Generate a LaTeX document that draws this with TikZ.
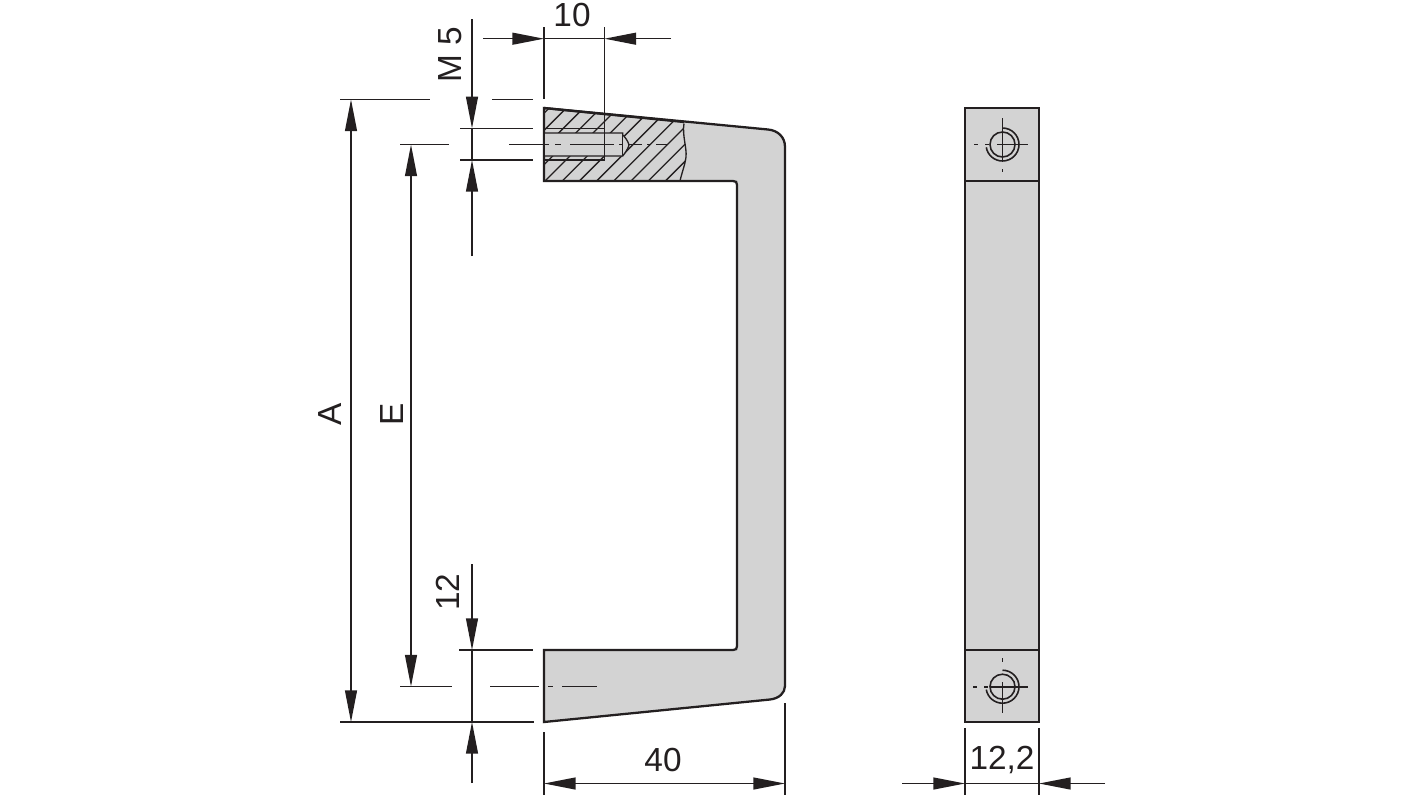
\documentclass[tikz,border=0pt]{standalone}
\usepackage{fontspec}
\setmainfont{Liberation Sans}
\usetikzlibrary{arrows.meta}
\definecolor{bodygray}{HTML}{D3D3D3}
\definecolor{inkdark}{HTML}{231F20}
\begin{document}
\begin{tikzpicture}[x=0.02cm,y=-0.02cm]
		\tikzset{outline/.style = {draw=inkdark,line width=1.3pt,line join=miter}}
		\tikzset{thin line/.style = {draw=inkdark,line width=0.75pt}}
		\tikzset{dim/.style = {thin line,{Triangle[length=18pt,width=6.8pt,fill=inkdark]}-{Triangle[length=18pt,width=6.8pt,fill=inkdark]}}}
		\tikzset{dimin/.style = {thin line,-{Triangle[length=18pt,width=6.8pt,fill=inkdark]}}}
		\tikzset{label/.style = {inner sep=0pt,text=inkdark,font=\fontsize{19}{21}\selectfont}}
		\useasboundingbox (0,0) rectangle (1420,798);
		% handle, side cut
		\draw[outline,fill=bodygray] (544,108) -- (768,129.5) .. controls (778,130.5) and (785,137) .. (785,147) -- (785,686) .. controls (785,693) and (779,698.5) .. (770,699.5) -- (544,722) -- (544,650) -- (733,650) .. controls (736,650) and (737,649) .. (737,646) -- (737,185) .. controls (737,182) and (736,181) .. (733,181) -- (544,181) -- cycle;
		% hatching
		\begin{scope}
		\clip (544,108) -- (684,122) .. controls (682,135) and (687,148) .. (686,157) .. controls (685,165) and (682,172) .. (680,181) -- (544,181) -- cycle;
		\foreach \k in {-4,...,8}
			\draw[thin line] ({545+17.2*\k},181) -- ({545+17.2*\k+90},91);
		\end{scope}
		\draw[thin line] (684,123.5) .. controls (682,135) and (687,148) .. (686,157) .. controls (685,165) and (682,172) .. (680,181);
		\draw[outline] (544,108) -- (684,122);
		\draw[outline] (680,181) -- (544,181) -- (544,108);
		% threaded hole
		\draw[thin line,fill=bodygray] (545,133) -- (622.7,133) -- (622.7,135) .. controls (625,137) and (628,141) .. (629,145) .. controls (628,149) and (625,153) .. (622.7,156) -- (545,156);
		\draw[thin line] (622.7,133) -- (622.7,156);
		\coordinate (threadtopL) at (460,128.3);
		\coordinate (threadtopR) at (533,128.3);
		\coordinate (threadbotL) at (460,160);
		\coordinate (threadbotR) at (533,160);
		\draw[thin line] (threadtopL) -- (threadtopR);
		\draw[thin line] (threadbotL) -- (threadbotR);
		\draw[thin line] (545,128.3) -- (604.5,128.3);
		\draw[thin line] (545,160) -- (604.5,160);
		% center lines
		\draw[thin line] (400,144.6) -- (449,144.6);
		\draw[thin line] (509,144.6) -- (549,144.6);
		\draw[thin line] (555,144.6) -- (561,144.6) (570,144.6) -- (600,144.6);
		\draw[thin line,dash pattern=on 8pt off 3pt on 2pt off 3pt] (600,144.6) -- (667,144.6);
		\draw[thin line] (400,686.5) -- (452,686.5);
		\draw[thin line] (490,686.5) -- (539,686.5) (548,686.5) -- (553,686.5) (562,686.5) -- (597,686.5);
		% extension lines
		\coordinate (extAtopL) at (340,99.5);
		\coordinate (extAtopR) at (430,99.5);
		\coordinate (extMtopL) at (492,99.5);
		\coordinate (extMtopR) at (533,99.5);
		\coordinate (extAbotL) at (340,722);
		\coordinate (extAbotR) at (534,722);
		\coordinate (ext12L) at (459,650);
		\coordinate (ext12R) at (533,650);
		\draw[thin line] (extAtopL) -- (extAtopR);
		\draw[thin line] (extMtopL) -- (extMtopR);
		\draw[thin line] (extAbotL) -- (extAbotR);
		\draw[thin line] (ext12L) -- (ext12R);
		\draw[thin line] (544,27) -- (544,99);
		\draw[thin line] (604.5,27) -- (604.5,160);
		\draw[thin line] (544,732) -- (544,795);
		\draw[thin line] (785,703) -- (785,795);
		\draw[thin line] (965,728) -- (965,795);
		\draw[thin line] (1039,728) -- (1039,795);
		% dimension lines
		\draw[dim] (351,99.5) to (351,722);
		\draw[dim] (411,144.6) to (411,686.5);
		\draw[dim] (544,783.5) to (785,783.5);
		\draw[dimin] (472,19) to (472,128.3);
		\draw[dimin] (472,256) to (472,160);
		\draw[thin line] (472,128.3) -- (472,160);
		\draw[dimin] (472,564) to (472,650);
		\draw[dimin] (472,783) to (472,722);
		\draw[thin line] (472,650) -- (472,722);
		\draw[dimin] (483,38.7) to (544,38.7);
		\draw[dimin] (671,38.7) to (604.5,38.7);
		\draw[thin line] (544,38.7) -- (604.5,38.7);
		\draw[dimin] (902,783.5) to (965,783.5);
		\draw[dimin] (1105,783.5) to (1039,783.5);
		\draw[thin line] (965,783.5) -- (1039,783.5);
		% front view
		\draw[outline,fill=bodygray] (965,108) rectangle (1039,722);
		\draw[thin line] (965,181) -- (1039,181);
		\draw[thin line] (965,650) -- (1039,650);
		\foreach \cy/\name in {144.5/top,686.7/bot}{
			\coordinate (hole\name) at (1002.5,\cy);
			\draw[thin line,line width=0.9pt] (hole\name) circle [radius=12.5];
			\draw[thin line,line width=0.9pt] ([yshift=0.33cm]hole\name) arc [start angle=90,end angle=-170,radius=0.33cm];
		}
		\draw[thin line,line width=0.9pt] (1002.5,118) -- (1002.5,161) (1002.5,169) -- (1002.5,171.5);
		\draw[thin line,line width=0.9pt] (974,144.5) -- (978,144.5) (985,144.5) -- (989,144.5) (997,144.5) -- (1028,144.5);
		\draw[thin line,line width=0.9pt] (1002.5,658) -- (1002.5,662) (1002.5,682) -- (1002.5,713);
		\draw[thin line,line width=0.9pt] (973,686.7) -- (977,686.7) (984,686.7) -- (988,686.7) (990,686.7) -- (1028,686.7);
		% labels
		\node[label] (lab10) at (572,15) {10};
		\node[label,rotate=90] (labM) at (450,55) {M 5};
		\node[label,rotate=90] (labA) at (330,414) {A};
		\node[label,rotate=90] (labE) at (392,414) {E};
		\node[label,rotate=90] (lab12) at (448,592) {12};
		\node[label] (lab40) at (663,760) {40};
		\node[label] (lab122) at (1002,760) {12,2};
\end{tikzpicture}
\end{document}
